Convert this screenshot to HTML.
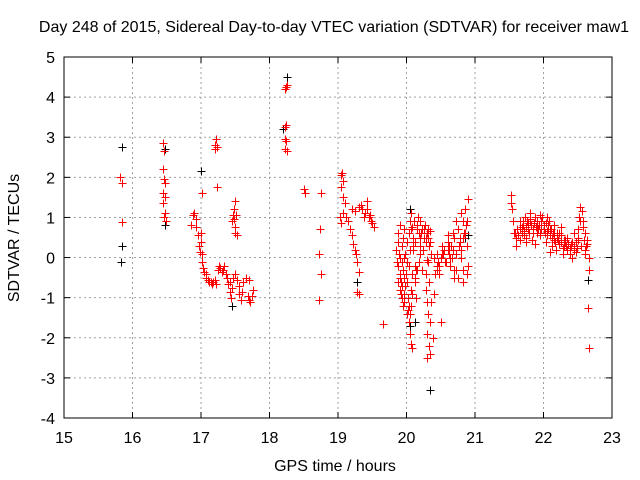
<!DOCTYPE html>
<html><head><meta charset="utf-8"><style>
body{margin:0;background:#fff}
svg{display:block;font-family:"Liberation Sans",sans-serif}
</style></head><body>
<svg id="chart" width="640" height="480" xmlns="http://www.w3.org/2000/svg">
<rect width="640" height="480" fill="#fff"/>
<g id="grid"></g>
<g id="axes"></g>
<g id="marks"></g>
<text x="334" y="32" font-size="16" text-anchor="middle">Day 248 of 2015, Sidereal Day-to-day VTEC variation (SDTVAR) for receiver maw1</text>
<text x="335" y="471" font-size="16" text-anchor="middle">GPS time / hours</text>
<text transform="translate(19,238) rotate(-90)" font-size="16" text-anchor="middle">SDTVAR / TECUs</text>
</svg>
<script>
const xTicks=[15,16,17,18,19,20,21,22,23];
const yTicks=[-4,-3,-2,-1,0,1,2,3,4,5];
const redX=[15.82,15.85,15.85,16.45,16.46,16.45,16.46,16.48,16.45,16.47,16.45,16.48,16.46,16.49,
16.85,16.88,16.9,16.92,16.93,16.95,16.97,16.98,17.0,17.0,17.01,17.02,17.03,17.05,17.07,17.08,17.1,17.12,17.14,17.16,17.18,17.2,17.22,17.02,17.2,17.2,17.22,17.23,17.24,
17.25,17.27,17.28,17.3,17.32,17.34,17.36,17.38,17.4,17.42,17.44,17.45,17.46,17.43,
17.45,17.47,17.48,17.5,17.49,17.5,17.52,17.48,17.51,
17.5,17.52,17.55,17.56,17.58,17.6,17.62,17.65,17.68,17.7,17.72,17.74,17.76,17.7,
18.22,18.24,18.22,18.24,18.22,18.26,18.24,18.25,18.23,18.5,18.52,18.75,18.73,18.72,18.75,18.72,
19.05,19.06,19.08,19.04,19.07,19.1,19.03,19.05,19.08,19.12,19.15,19.18,19.2,19.22,19.25,19.27,19.28,19.3,19.28,19.3,19.2,19.25,19.3,19.33,19.35,19.38,19.4,19.42,19.45,19.48,19.5,19.52,19.42,19.47,19.65,
19.85,19.87,19.88,19.9,19.9,19.88,19.9,19.92,19.9,19.93,19.95,19.96,19.97,19.95,19.93,19.95,19.97,19.98,20.0,20.0,20.02,20.02,20.03,20.05,20.06,20.08,20.05,20.07,20.08,20.05,20.03,20.05,20.07,20.08,20.1,20.1,20.12,20.12,20.14,20.15,20.17,20.18,20.2,20.22,20.2,20.18,20.22,20.25,20.27,20.28,20.3,20.32,20.33,20.35,20.3,20.28,20.3,20.32,20.3,20.33,20.35,20.36,20.33,20.35,20.3,20.38,20.4,20.42,20.45,20.45,20.47,20.5,20.52,20.55,20.57,20.6,20.62,20.63,20.6,20.65,20.67,20.7,20.7,20.72,20.75,20.68,20.72,20.75,20.78,20.8,20.82,20.83,20.8,20.82,20.85,20.83,20.87,20.88,20.9,20.9,20.88,20.5,
19.86,19.89,19.91,19.94,19.96,19.99,20.01,20.04,20.06,20.09,20.11,20.13,20.16,20.19,20.21,20.24,20.26,20.29,20.31,20.34,19.88,19.92,19.96,20.0,20.04,20.08,20.12,20.16,20.2,20.24,20.28,20.32,20.36,20.4,20.44,20.48,20.52,20.56,20.6,20.64,20.68,20.72,20.76,20.8,20.84,20.88,20.46,20.54,20.62,20.7,20.78,20.86,20.14,20.06,19.98,19.94,
21.52,21.53,21.54,21.55,21.57,21.6,21.62,21.65,21.68,21.7,21.72,21.75,21.73,21.76,21.78,21.8,21.82,21.85,21.87,21.9,21.92,21.88,21.95,21.97,22.0,22.02,22.04,22.06,22.08,22.1,22.12,22.14,22.16,22.18,22.2,22.22,22.25,22.28,22.3,22.32,22.35,22.38,22.4,22.42,22.45,22.48,22.5,22.52,22.54,22.56,22.58,22.6,22.62,22.64,22.66,22.67,22.65,22.66,21.65,21.83,21.95,22.05,22.15,22.25,22.35,22.45,22.1,21.6,22.55,22.6,
21.58,21.61,21.63,21.66,21.69,21.71,21.74,21.77,21.79,21.81,21.84,21.86,21.89,21.91,21.93,21.96,21.98,22.01,22.03,22.05,22.07,22.09,22.11,22.13,22.15,22.17,22.19,22.21,22.23,22.26,22.29,22.31,22.33,22.36,22.39,22.41,22.44,22.47,22.49,22.51,22.53,22.57,22.59,22.61,22.63,21.7,21.8,21.9,22.0,22.1,22.2,22.3,22.4,22.5,21.75,21.85,21.95,22.05];
const redY=[2.02,1.85,0.88,2.85,2.65,2.2,1.95,1.85,1.6,1.5,1.35,1.1,1.0,0.9,
0.8,1.05,1.1,0.95,0.75,0.55,0.3,0.15,0.6,0.4,0.1,-0.1,-0.25,-0.35,-0.4,-0.5,-0.55,-0.6,-0.6,-0.65,-0.6,-0.55,-0.65,1.6,2.8,2.7,2.95,2.75,1.75,
-0.3,-0.2,-0.25,-0.35,-0.3,-0.2,-0.4,-0.5,-0.65,-0.85,-1.0,-0.75,-0.5,-0.6,
0.9,1.05,1.2,1.4,0.75,0.6,0.55,0.95,1.05,
-0.4,-0.55,-0.7,-0.9,-1.05,-0.85,-0.6,-0.5,-0.95,-1.05,-1.1,-0.95,-0.8,-0.55,
3.25,3.3,2.95,2.9,2.7,2.65,4.25,4.3,4.2,1.7,1.6,1.6,0.7,0.1,-0.4,-1.05,
2.05,2.1,1.9,1.75,1.5,1.35,1.0,0.85,1.1,1.0,0.9,0.7,0.55,0.35,0.2,0.1,-0.1,-0.35,-0.85,-0.9,1.2,1.15,1.25,1.3,1.2,1.0,1.1,1.2,1.0,0.9,0.85,0.75,1.4,1.05,-1.65,
0.2,0.4,0.6,0.8,0.0,-0.2,-0.4,-0.6,-0.8,-1.0,-1.2,-0.9,-0.5,-0.3,0.3,0.5,0.7,0.1,-0.1,-0.6,-1.0,-1.3,-1.6,-1.9,-2.15,-2.25,-1.4,-0.8,-0.4,0.2,0.6,0.9,1.1,0.75,0.5,0.2,-0.2,-0.6,-1.0,0.8,1.0,0.6,0.9,0.7,0.3,-0.1,-0.3,0.5,0.8,0.4,0.6,0.7,0.3,0.65,-0.05,-0.8,-1.1,-1.4,-1.9,-2.2,-1.6,-1.1,-0.6,-2.4,-2.5,-2.0,-0.9,-0.4,-0.2,0.1,-0.4,0.0,0.3,0.2,-0.1,0.4,0.1,-0.2,0.55,0.3,0.0,-0.3,-0.5,-0.3,-0.5,0.6,0.9,0.7,0.4,0.0,-0.3,-0.6,1.1,0.9,1.2,0.5,0.8,0.3,-0.2,1.45,-0.4,-1.6,
-0.1,0.1,-0.5,-0.7,0.0,-0.4,0.4,-0.2,0.7,0.3,0.9,0.4,0.7,0.5,0.6,0.2,0.7,0.5,0.5,0.4,-0.6,-0.9,-1.1,-1.4,-1.2,-0.9,-0.5,-0.3,0.1,0.2,-0.4,-0.1,0.1,0.0,-0.3,-0.2,0.1,-0.1,0.2,0.0,0.2,0.1,0.3,0.2,0.6,0.9,-0.1,0.1,0.3,0.5,0.5,0.6,-0.3,-1.2,-0.7,-0.1,
1.55,1.35,1.2,0.9,0.6,0.5,0.7,0.45,0.6,0.8,0.55,0.4,1.0,0.9,0.7,1.1,0.8,0.6,1.0,0.9,0.7,0.35,0.6,0.9,0.8,0.6,0.4,0.7,0.9,0.55,0.3,0.6,0.45,0.2,0.5,0.35,0.55,0.1,0.3,0.45,0.2,0.1,0.35,0.0,0.2,0.4,0.7,1.0,1.25,1.15,0.9,0.6,0.3,0.35,0.0,-0.3,-1.25,-2.25,0.9,0.45,1.05,1.0,0.8,0.75,0.5,0.6,0.15,0.3,0.3,0.1,
0.6,0.7,0.55,0.7,0.75,0.65,0.75,0.85,0.6,0.95,0.7,0.85,0.75,0.6,0.8,0.7,1.0,0.7,0.85,0.55,0.8,0.65,0.7,0.5,0.6,0.4,0.55,0.45,0.6,0.4,0.25,0.4,0.3,0.35,0.25,0.4,0.3,0.15,0.25,0.45,0.9,0.75,0.45,0.2,0.45,0.9,0.9,0.8,0.7,0.7,0.6,0.45,0.3,0.5,0.5,0.7,0.55,0.65];
const blackX=[15.85,15.84,15.83,16.47,16.47,17.0,17.45,18.25,18.2,19.28,20.05,20.05,20.35,20.9,22.65,20.13,20.85];
const blackY=[2.75,0.3,-0.1,0.8,2.7,2.15,-1.2,4.5,3.2,-0.6,1.2,-1.7,-3.3,0.55,-0.55,-1.6,0.5];

const L=64,R=612,T=57,B=418;
const sx=v=>L+(v-15)/8*(R-L);
const sy=v=>B-(v+4)/9*(B-T);
const NS="http://www.w3.org/2000/svg";
function mk(tag,attrs,parent){const e=document.createElementNS(NS,tag);for(const k in attrs)e.setAttribute(k,attrs[k]);parent.appendChild(e);return e;}
const grid=document.getElementById('grid'),axes=document.getElementById('axes'),marks=document.getElementById('marks');
xTicks.forEach(t=>{const x=sx(t);
 if(t>15&&t<23){const g=mk('line',{x1:x,x2:x,y1:T,y2:B,stroke:'#a0a0a0','stroke-dasharray':'2,3'},grid);
 
 }
 mk('line',{x1:x,x2:x,y1:B,y2:B-6,stroke:'#000'},axes);mk('line',{x1:x,x2:x,y1:T,y2:T+6,stroke:'#000'},axes);
 const tx=mk('text',{x:x,y:B+25,'font-size':16,'text-anchor':'middle'},axes);tx.textContent=t;
 
 });
yTicks.forEach(t=>{const y=sy(t);
 if(t>-4&&t<5){const g=mk('line',{x1:L,x2:R,y1:y,y2:y,stroke:'#a0a0a0','stroke-dasharray':'2,3'},grid);
 
 }
 mk('line',{x1:L,x2:L+6,y1:y,y2:y,stroke:'#000'},axes);mk('line',{x1:R,x2:R-6,y1:y,y2:y,stroke:'#000'},axes);
 const tx=mk('text',{x:L-9,y:y+6,'font-size':16,'text-anchor':'end'},axes);tx.textContent=t;
 
 });
const frame=mk('rect',{x:L,y:T,width:R-L,height:B-T,fill:'none',stroke:'#000'},axes);


function plus(xs,ys,color,name){let d='';for(let i=0;i<xs.length;i++){const x=Math.round(sx(xs[i]))+0.5,y=Math.round(sy(ys[i]))+0.5;d+=`M${x-4},${y}h8M${x},${y-4}v8`;}
 const p=mk('path',{d:d,stroke:color,'stroke-width':1,fill:'none','shape-rendering':'crispEdges'},marks);
 
 }
plus(blackX,blackY,'#000','series-black-points');
plus(redX,redY,'#ff0000','series-red-points');
</script>
</body></html>
